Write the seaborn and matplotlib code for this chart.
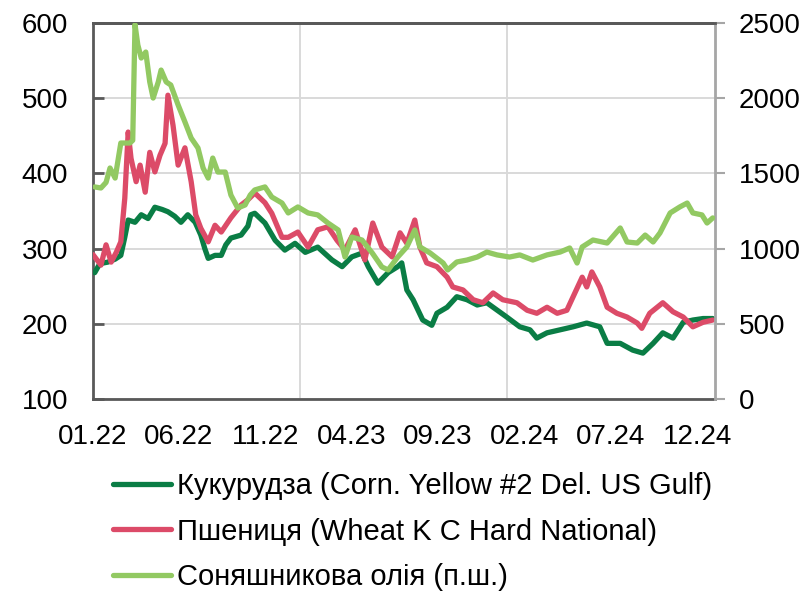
import matplotlib
matplotlib.use("Agg")
import matplotlib.pyplot as plt
import matplotlib.font_manager as fm
import pandas as pd
import seaborn as sns

# ---------------- data ----------------
corn_dates = ["2022-01-04", "2022-01-13", "2022-01-27", "2022-02-09", "2022-02-19", "2022-02-26",
              "2022-03-04", "2022-03-16", "2022-03-27", "2022-04-08", "2022-04-20", "2022-05-03",
              "2022-05-13", "2022-05-25", "2022-06-05", "2022-06-17", "2022-06-30", "2022-07-10",
              "2022-07-17", "2022-07-23", "2022-08-04", "2022-08-15", "2022-08-23", "2022-09-01",
              "2022-09-19", "2022-10-01", "2022-10-06", "2022-10-13", "2022-10-31", "2022-11-18",
              "2022-12-05", "2022-12-23", "2023-01-10", "2023-02-01", "2023-02-26", "2023-03-16",
              "2023-04-02", "2023-04-20", "2023-05-01", "2023-05-18", "2023-06-05", "2023-06-22",
              "2023-06-29", "2023-07-08", "2023-07-19", "2023-08-05", "2023-08-21", "2023-08-30",
              "2023-09-17", "2023-10-04", "2023-10-22", "2023-11-09", "2023-11-26", "2023-12-07",
              "2023-12-31", "2024-01-23", "2024-02-10", "2024-02-22", "2024-03-11", "2024-04-03",
              "2024-04-26", "2024-05-20", "2024-06-12", "2024-06-25", "2024-07-18", "2024-08-09",
              "2024-08-27", "2024-09-14", "2024-10-01", "2024-10-19", "2024-11-06", "2024-11-23",
              "2024-12-11", "2024-12-28"]
corn_values = [268, 280, 282, 286, 291, 315,
               338, 335, 345, 340, 355, 352,
               349, 343, 335, 345, 335, 318,
               300, 287, 291, 291, 305, 314,
               318, 330, 345, 347, 334, 311,
               298, 307, 295, 302, 285, 276,
               289, 294, 276, 254, 268, 276,
               281, 245, 232, 205, 198, 214,
               222, 236, 232, 225, 228, 222,
               209, 196, 192, 181, 188, 192,
               196, 201, 196, 174, 174, 165,
               161, 174, 188, 181, 202, 205,
               207, 207]

wheat_dates = ["2022-01-01", "2022-01-15", "2022-01-24", "2022-02-02", "2022-02-11", "2022-02-19",
               "2022-02-26", "2022-03-04", "2022-03-09", "2022-03-18", "2022-03-25", "2022-04-03",
               "2022-04-11", "2022-04-20", "2022-04-29", "2022-05-08", "2022-05-13", "2022-05-22",
               "2022-05-31", "2022-06-12", "2022-06-23", "2022-07-01", "2022-07-10", "2022-07-23",
               "2022-08-04", "2022-08-15", "2022-09-01", "2022-09-19", "2022-10-01", "2022-10-13",
               "2022-10-31", "2022-11-12", "2022-11-30", "2022-12-11", "2022-12-28", "2023-01-15",
               "2023-02-01", "2023-02-19", "2023-03-07", "2023-03-21", "2023-04-08", "2023-04-25",
               "2023-05-09", "2023-05-25", "2023-06-12", "2023-06-26", "2023-07-08", "2023-07-22",
               "2023-07-31", "2023-08-12", "2023-08-30", "2023-09-17", "2023-09-27", "2023-10-15",
               "2023-11-02", "2023-11-19", "2023-12-07", "2023-12-24", "2024-01-18", "2024-02-05",
               "2024-02-22", "2024-03-11", "2024-03-29", "2024-04-15", "2024-04-26", "2024-05-12",
               "2024-05-20", "2024-05-29", "2024-06-12", "2024-06-25", "2024-07-12", "2024-07-30",
               "2024-08-17", "2024-08-25", "2024-09-08", "2024-10-01", "2024-10-19", "2024-11-06",
               "2024-11-23", "2024-12-11", "2024-12-28"]
wheat_values = [292, 278, 305, 282, 295, 309,
                367, 455, 420, 389, 411, 375,
                428, 402, 424, 440, 504, 464,
                411, 434, 389, 345, 327, 309,
                331, 322, 341, 358, 365, 374,
                361, 347, 315, 315, 322, 302,
                325, 329, 311, 298, 325, 285,
                334, 302, 289, 321, 307, 338,
                302, 281, 276, 262, 249, 245,
                232, 228, 241, 232, 228, 218,
                214, 222, 214, 218, 236, 262,
                249, 269, 249, 222, 214, 209,
                201, 194, 214, 228, 216, 209,
                196, 202, 205]

oil_dates = ["2022-01-04", "2022-01-15", "2022-01-24", "2022-01-31", "2022-02-09", "2022-02-19",
             "2022-03-07", "2022-03-12", "2022-03-16", "2022-03-21", "2022-03-27", "2022-04-04",
             "2022-04-11", "2022-04-17", "2022-04-26", "2022-05-01", "2022-05-10", "2022-05-18",
             "2022-05-31", "2022-06-12", "2022-06-23", "2022-07-05", "2022-07-14", "2022-07-23",
             "2022-07-31", "2022-08-09", "2022-08-22", "2022-09-01", "2022-09-13", "2022-09-26",
             "2022-10-05", "2022-10-13", "2022-10-31", "2022-11-12", "2022-11-30", "2022-12-11",
             "2022-12-28", "2023-01-15", "2023-02-01", "2023-02-19", "2023-03-09", "2023-03-21",
             "2023-04-02", "2023-04-20", "2023-05-08", "2023-05-25", "2023-06-05", "2023-06-22",
             "2023-07-08", "2023-07-22", "2023-07-31", "2023-08-18", "2023-09-10", "2023-09-18",
             "2023-10-04", "2023-10-22", "2023-11-09", "2023-11-26", "2023-12-14", "2024-01-05",
             "2024-01-23", "2024-02-15", "2024-03-11", "2024-04-03", "2024-04-20", "2024-05-03",
             "2024-05-12", "2024-05-31", "2024-06-25", "2024-07-18", "2024-07-30", "2024-08-17",
             "2024-08-31", "2024-09-14", "2024-09-26", "2024-10-14", "2024-10-31", "2024-11-13",
             "2024-11-23", "2024-12-09", "2024-12-18", "2024-12-28"]
oil_values = [1410, 1403, 1440, 1536, 1469, 1702,
              1702, 1720, 2490, 2354, 2267, 2307,
              2108, 2001, 2108, 2187, 2108, 2088,
              1955, 1842, 1735, 1669, 1536, 1469,
              1602, 1509, 1509, 1356, 1270, 1290,
              1356, 1390, 1410, 1343, 1303, 1237,
              1277, 1237, 1224, 1170, 1124, 944,
              1077, 1057, 971, 878, 858, 944,
              1011, 1124, 1011, 971, 904, 858,
              911, 924, 944, 977, 958, 944,
              958, 924, 958, 977, 1004, 904,
              1011, 1057, 1037, 1137, 1044, 1037,
              1090, 1044, 1104, 1237, 1277, 1303,
              1237, 1224, 1170, 1204]

series_labels = ["Кукурудза (Corn. Yellow #2 Del. US Gulf)",
                 "Пшениця (Wheat K C Hard National)",
                 "Соняшникова олія (п.ш.)"]
x_tick_labels = ["01.22", "06.22", "11.22", "04.23", "09.23", "02.24", "07.24", "12.24"]
left_ticks = [100, 200, 300, 400, 500, 600]
right_ticks = [0, 500, 1000, 1500, 2000, 2500]

# ---------------- styling ----------------
c_corn = "#0a7d45"
c_wheat = "#dc4b68"
c_oil = "#92c962"
spine_dark = "#595959"
grid_c = "#d9d9d9"

sns.set_style("white")
plt.rcParams["font.family"] = ["Liberation Sans", "DejaVu Sans"]
plt.rcParams["text.color"] = "black"
plt.rcParams["xtick.labelcolor"] = "black"
plt.rcParams["ytick.labelcolor"] = "black"

W, H = 810, 593
fig = plt.figure(figsize=(W / 100, H / 100), dpi=100)
ax = fig.add_axes([93 / W, 1 - 399 / H, 622 / W, 376 / H])
ax2 = ax.twinx()

corn = pd.DataFrame({"date": pd.to_datetime(corn_dates), "value": corn_values})
wheat = pd.DataFrame({"date": pd.to_datetime(wheat_dates), "value": wheat_values})
oil = pd.DataFrame({"date": pd.to_datetime(oil_dates), "value": oil_values})

lw = 3.8
sns.lineplot(data=corn, x="date", y="value", ax=ax, color=c_corn, lw=lw,
             label=series_labels[0], legend=False, zorder=3)
sns.lineplot(data=wheat, x="date", y="value", ax=ax, color=c_wheat, lw=lw,
             label=series_labels[1], legend=False, zorder=4)
sns.lineplot(data=oil, x="date", y="value", ax=ax2, color=c_oil, lw=lw,
             label=series_labels[2], legend=False, zorder=5)

# axes ranges
xmin, xmax = pd.Timestamp("2022-01-01"), pd.Timestamp("2025-01-01")
ax.set_xlim(xmin, xmax)
ax.set_ylim(left_ticks[0], left_ticks[-1])
ax2.set_ylim(right_ticks[0], right_ticks[-1])

# x ticks: labels every 5 months, grid/tick marks yearly
tick_pos = [pd.to_datetime(t, format="%m.%y") for t in x_tick_labels]
ax.set_xticks(tick_pos)
ax.set_xticklabels(x_tick_labels)
ax.set_xticks([pd.Timestamp("2023-01-01"), pd.Timestamp("2024-01-01")], minor=True)
ax.tick_params(axis="x", which="major", length=0, pad=18, labelsize=20, labelcolor="black")
ax.tick_params(axis="x", which="minor", direction="in", length=6, width=1.5, color=spine_dark)
ax.grid(False)
ax.grid(True, axis="x", which="minor", color=grid_c, lw=1.4)

ax.set_yticks(left_ticks)
ax.tick_params(axis="y", which="major", direction="in", length=8, width=2,
               color=spine_dark, pad=18, labelsize=20, labelcolor="black")
ax.grid(True, axis="y", which="major", color=grid_c, lw=1.4)

ax2.set_yticks(right_ticks)
ax2.tick_params(axis="y", which="major", direction="out", length=7, width=1.5,
                color="#a6a6a6", pad=10, labelsize=20, labelcolor="black")
ax2.grid(False)

ax.set_xlabel("")
ax.set_ylabel("")
ax2.set_ylabel("")

for a in (ax, ax2):
    for s in a.spines.values():
        s.set_visible(True)
        s.set_linewidth(2)
        s.set_color(spine_dark)
ax2.spines["right"].set_color("#a6a6a6")
ax.spines["right"].set_visible(False)
ax2.spines["left"].set_visible(False)
ax2.spines["bottom"].set_visible(False)

# legend
h1, l1 = ax.get_legend_handles_labels()
h2, l2 = ax2.get_legend_handles_labels()
leg_font = fm.FontProperties(family=["Liberation Sans", "DejaVu Sans"], size=21)
leg = fig.legend(h1 + h2, l1 + l2, loc="upper left", bbox_to_anchor=(113 / W, 1 - 472 / H),
                 frameon=False, prop=leg_font, handlelength=2.0, handletextpad=0.2,
                 labelspacing=0.6, borderaxespad=0, borderpad=0)
for t in leg.get_texts():
    t.set_color("black")

fig.savefig("out.png", dpi=100)
